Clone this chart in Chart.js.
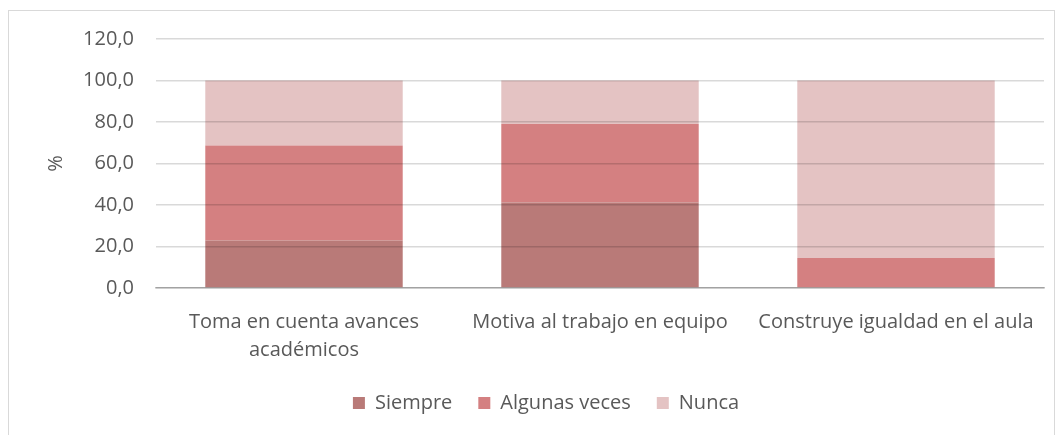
<!DOCTYPE html>
<html>
<head>
<meta charset="utf-8">
<script src="https://cdn.jsdelivr.net/npm/chart.js@4"></script>
<style>
  body { margin: 0; background: #fff; }
  #wrap { position: relative; width: 1064px; height: 435px; }
  #frame { position: absolute; left: 8px; top: 10px; width: 1047px; height: 440px; border: 1px solid #d9d9d9; box-sizing: border-box; }
  canvas { position: absolute; left: 0; top: 0; }
</style>
</head>
<body>
<div id="wrap">
  <div id="frame"></div>
  <canvas id="chart" width="1064" height="435"></canvas>
</div>
<script>
const categories = [["Toma en cuenta avances", "académicos"], "Motiva al trabajo en equipo", "Construye igualdad en el aula"];
const siempre = [22.9, 41.2, 0];
const algunasVeces = [45.8, 37.8, 14.4];
const nunca = [31.3, 21.0, 85.6];
const yTicks = [0, 20, 40, 60, 80, 100, 120];

const textColor = '#595959';
const fontFamily = '"Open Sans", sans-serif';
const fontSize = 20;

function makeSet(label, data, color) {
    return {
        label: label,
        data: data,
        backgroundColor: color,
        borderWidth: 0,
        barPercentage: 0.667,
        categoryPercentage: 1
    };
}

const config = {
    type: 'bar',
    data: {
        labels: categories,
        datasets: [
            makeSet('Siempre', siempre, '#b97a78'),
            makeSet('Algunas veces', algunasVeces, '#d48081'),
            makeSet('Nunca', nunca, '#e4c3c3')
        ]
    },
    options: {
        responsive: false,
        animation: false,
        // left padding only serves to centre the legend like the original
        layout: { padding: { top: 39, right: 20, bottom: 12, left: 48 } },
        plugins: {
            tooltip: { enabled: false },
            legend: {
                position: 'bottom',
                labels: {
                    boxWidth: 12,
                    boxHeight: 12,
                    padding: 26,
                    color: textColor,
                    font: { family: fontFamily, size: fontSize }
                }
            }
        },
        scales: {
            x: {
                stacked: true,
                grid: { display: false },
                border: { color: '#bfbfbf', width: 1.5 },
                ticks: {
                    color: textColor,
                    font: { family: fontFamily, size: fontSize, lineHeight: 1.4 },
                    maxRotation: 0,
                    autoSkip: false,
                    padding: 12
                },
                afterFit: function(scale) { scale.height = 79; }
            },
            y: {
                stacked: true,
                min: 0,
                max: 120,
                afterBuildTicks: function(scale) {
                    scale.ticks = yTicks.map(v => ({ value: v }));
                },
                grid: { color: 'rgba(0,0,0,0.15)', z: 1, drawTicks: false, lineWidth: 1.5 },
                border: { display: false },
                ticks: {
                    color: textColor,
                    font: { family: fontFamily, size: fontSize },
                    padding: 22,
                    callback: function(value) { return value.toFixed(1).replace('.', ','); }
                },
                title: {
                    display: true,
                    text: '%',
                    color: textColor,
                    font: { family: fontFamily, size: fontSize },
                    padding: { top: -4, bottom: 0 }
                },
                afterFit: function(scale) { scale.width = 108; }
            }
        }
    }
};

new Chart(document.getElementById('chart'), config);
</script>
</body>
</html>
